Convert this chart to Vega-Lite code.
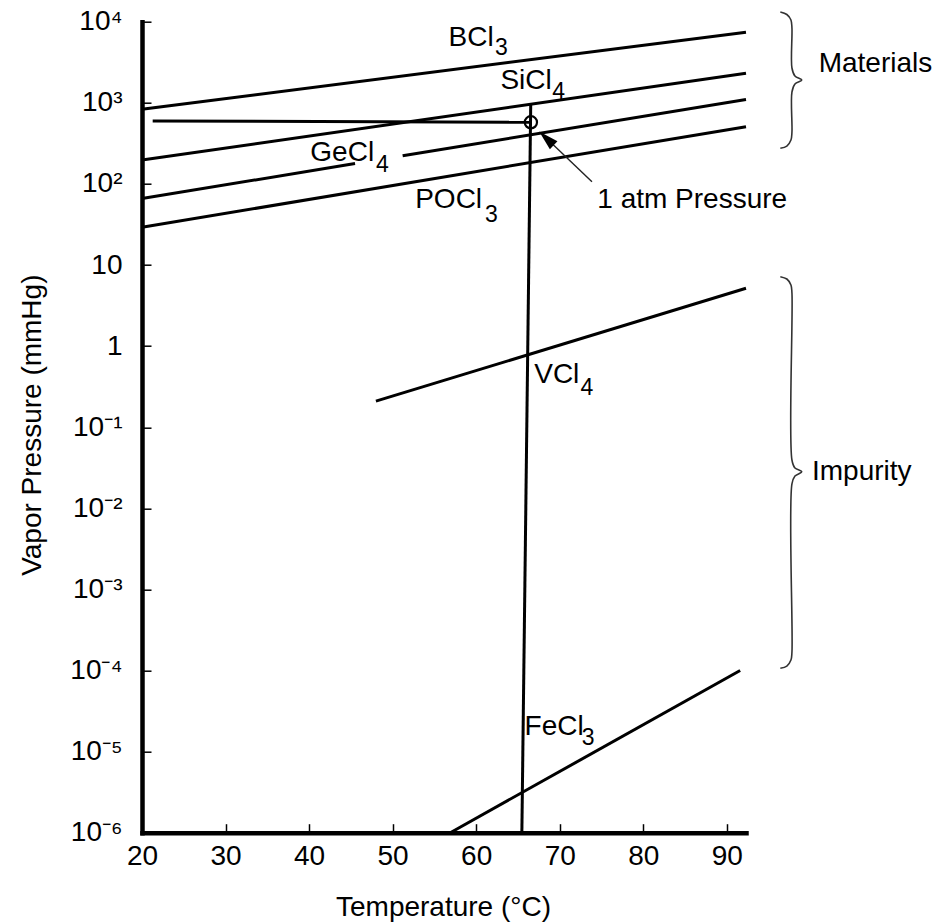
{
  "$schema": "https://vega.github.io/schema/vega-lite/v6.json",
  "width": 604,
  "height": 811,
  "autosize": "none",
  "padding": {"left": 142, "top": 21.7, "right": 205, "bottom": 90.3},
  "background": "white",
  "config": {
    "view": {"stroke": null},
    "font": "Liberation Sans",
    "text": {"font": "Liberation Sans", "color": "black"},
    "axis": {"labelFont": "Liberation Sans", "titleFont": "Liberation Sans", "labelColor": "black", "titleColor": "black", "grid": false}
  },
  "datasets": {
    "curves": [
      {"s": "BCl3", "x": 20, "y": 835}, {"s": "BCl3", "x": 92.3, "y": 7400},
      {"s": "SiCl4", "x": 20, "y": 197}, {"s": "SiCl4", "x": 92.3, "y": 2310},
      {"s": "GeCl4a", "x": 20, "y": 66}, {"s": "GeCl4a", "x": 45.5, "y": 178},
      {"s": "GeCl4b", "x": 51.2, "y": 222.3}, {"s": "GeCl4b", "x": 92.3, "y": 1100},
      {"s": "POCl3", "x": 20, "y": 29.2}, {"s": "POCl3", "x": 92.3, "y": 507},
      {"s": "VCl4", "x": 48.0, "y": 0.21}, {"s": "VCl4", "x": 92.3, "y": 5.16},
      {"s": "FeCl3", "x": 56.9, "y": 0.000001}, {"s": "FeCl3", "x": 91.6, "y": 0.0001},
      {"s": "boil", "x": 65.47, "y": 0.000001}, {"s": "boil", "x": 66.53, "y": 940},
      {"s": "atm", "x": 21.28, "y": 597}, {"s": "atm", "x": 66.55, "y": 575}
    ],
    "braces": [
      {"b": "m", "i": 1, "x": 96.41, "y": 13180},
      {"b": "m", "i": 2, "x": 97.19, "y": 12270},
      {"b": "m", "i": 3, "x": 97.68, "y": 10490},
      {"b": "m", "i": 4, "x": 97.8, "y": 8360},
      {"b": "m", "i": 5, "x": 97.8, "y": 2687},
      {"b": "m", "i": 6, "x": 98.16, "y": 2140},
      {"b": "m", "i": 7, "x": 98.98, "y": 1910},
      {"b": "m", "i": 8, "x": 98.16, "y": 1706},
      {"b": "m", "i": 9, "x": 97.8, "y": 1359},
      {"b": "m", "i": 10, "x": 97.8, "y": 436.5},
      {"b": "m", "i": 11, "x": 97.68, "y": 347.6},
      {"b": "m", "i": 12, "x": 97.19, "y": 293},
      {"b": "m", "i": 13, "x": 96.41, "y": 274.8},
      {"b": "p", "i": 1, "x": 96.41, "y": 7.18},
      {"b": "p", "i": 2, "x": 97.19, "y": 6.72},
      {"b": "p", "i": 3, "x": 97.68, "y": 5.66},
      {"b": "p", "i": 4, "x": 97.8, "y": 4.52},
      {"b": "p", "i": 5, "x": 97.8, "y": 0.0394},
      {"b": "p", "i": 6, "x": 98.16, "y": 0.0314},
      {"b": "p", "i": 7, "x": 98.98, "y": 0.02825},
      {"b": "p", "i": 8, "x": 98.16, "y": 0.025},
      {"b": "p", "i": 9, "x": 97.8, "y": 0.01995},
      {"b": "p", "i": 10, "x": 97.8, "y": 0.000169},
      {"b": "p", "i": 11, "x": 97.68, "y": 0.0001345},
      {"b": "p", "i": 12, "x": 97.19, "y": 0.0001135},
      {"b": "p", "i": 13, "x": 96.41, "y": 0.0001064}
    ],
    "labels": [
      {"t": "BCl", "x": 56.7, "y": 5012},
      {"t": "SiCl", "x": 62.9, "y": 1466},
      {"t": "GeCl", "x": 40.15, "y": 193},
      {"t": "POCl", "x": 52.7, "y": 50},
      {"t": "1 atm Pressure", "x": 74.5, "y": 50},
      {"t": "VCl", "x": 66.95, "y": 0.3475},
      {"t": "FeCl", "x": 65.8, "y": 0.00001603},
      {"t": "Materials", "x": 101.0, "y": 2417},
      {"t": "Impurity", "x": 100.2, "y": 0.02234}
    ],
    "subs": [
      {"t": "3", "x": 62.25, "y": 3883},
      {"t": "4", "x": 69.1, "y": 1104},
      {"t": "4", "x": 48.0, "y": 141},
      {"t": "3", "x": 61.05, "y": 34.2},
      {"t": "4", "x": 72.5, "y": 0.2494},
      {"t": "3", "x": 72.65, "y": 0.00001205}
    ]
  },
  "encoding": {
    "x": {
      "field": "x", "type": "quantitative",
      "scale": {"domain": [20, 92.3], "nice": false, "zero": false},
      "axis": {
        "title": "Temperature (°C)",
        "values": [20, 30, 40, 50, 60, 70, 80, 90],
        "format": "d",
        "labelFontSize": 28,
        "labelFlush": false,
        "labelOverlap": false,
        "labelPadding": 19,
        "tickSize": -9,
        "tickWidth": 1.5,
        "tickColor": "black",
        "domainWidth": 4.5,
        "domainColor": "black",
        "domainCap": "square",
        "titleFontSize": 28,
        "titleFontWeight": "normal",
        "titleX": 301,
        "titleY": 83,
        "titleAlign": "center",
        "titleBaseline": "alphabetic"
      }
    },
    "y": {
      "field": "y", "type": "quantitative",
      "scale": {"type": "log", "domain": [0.000001, 10000], "nice": false},
      "axis": {
        "title": "Vapor Pressure (mmHg)",
        "values": [0.000001, 0.00001, 0.0001, 0.001, 0.01, 0.1, 1, 10, 100, 1000, 10000],
        "labelExpr": "datum.value >= 9999 ? '10⁴' : datum.value >= 999 ? '10³' : datum.value >= 99 ? '10²' : datum.value >= 9 ? '10' : datum.value >= 0.9 ? '1' : datum.value >= 0.09 ? '10⁻¹' : datum.value >= 0.009 ? '10⁻²' : datum.value >= 0.0009 ? '10⁻³' : datum.value >= 0.00009 ? '10⁻⁴' : datum.value >= 0.000009 ? '10⁻⁵' : '10⁻⁶'",
        "labelFontSize": 28,
        "labelOverlap": false,
        "labelFlush": false,
        "labelPadding": 29,
        "labelBaseline": "middle",
        "tickSize": -9,
        "tickWidth": 1.5,
        "tickColor": "black",
        "domainWidth": 4.5,
        "domainColor": "black",
        "domainCap": "square",
        "titleFontSize": 28,
        "titleFontWeight": "normal",
        "titleAngle": -90,
        "titleX": -102,
        "titleY": 403,
        "titleAlign": "center",
        "titleBaseline": "alphabetic"
      }
    }
  },
  "layer": [
    {
      "data": {"name": "curves"},
      "mark": {"type": "line", "color": "black", "strokeWidth": 3},
      "encoding": {"detail": {"field": "s"}}
    },
    {
      "data": {"name": "braces"},
      "mark": {"type": "line", "color": "#333333", "strokeWidth": 1.6, "interpolate": "catmull-rom"},
      "encoding": {"detail": {"field": "b"}, "order": {"field": "i", "type": "quantitative"}}
    },
    {
      "data": {"values": [{"x": 73.86, "y": 106.4, "i": 0}, {"x": 68.41, "y": 365, "i": 1}]},
      "mark": {"type": "line", "color": "#222222", "strokeWidth": 1.4},
      "encoding": {"order": {"field": "i", "type": "quantitative"}}
    },
    {
      "data": {"values": [{"x": 68.41, "y": 365}]},
      "mark": {"type": "point", "shape": "M0,-1L0.55,1L-0.55,1Z", "filled": true, "color": "black", "size": 400, "angle": 313.6, "opacity": 1}
    },
    {
      "data": {"values": [{"x": 66.55, "y": 575}]},
      "mark": {"type": "point", "shape": "circle", "filled": false, "color": "black", "size": 150, "strokeWidth": 2.2, "opacity": 1}
    },
    {
      "data": {"name": "labels"},
      "mark": {"type": "text", "align": "left", "baseline": "alphabetic", "fontSize": 28, "color": "black"},
      "encoding": {"text": {"field": "t"}}
    },
    {
      "data": {"name": "subs"},
      "mark": {"type": "text", "align": "left", "baseline": "alphabetic", "fontSize": 23, "color": "black"},
      "encoding": {"text": {"field": "t"}}
    }
  ]
}
